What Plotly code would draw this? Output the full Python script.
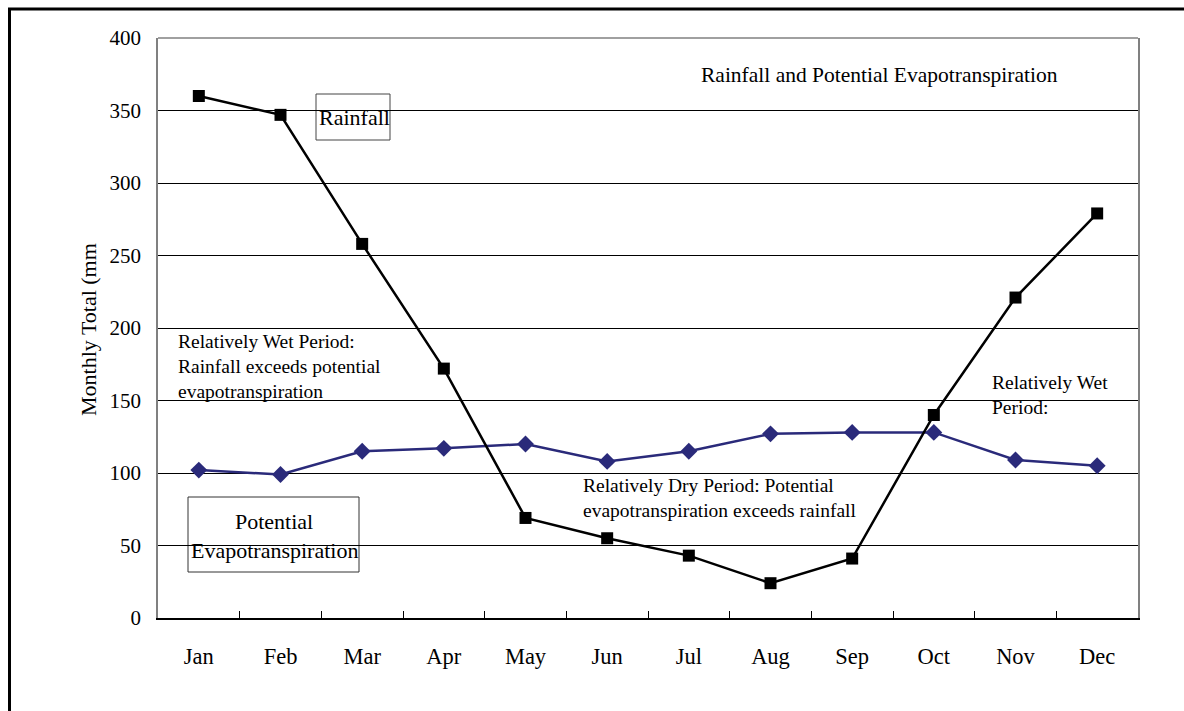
import plotly.graph_objects as go

# Monthly climate data
months = ["Jan", "Feb", "Mar", "Apr", "May", "Jun",
          "Jul", "Aug", "Sep", "Oct", "Nov", "Dec"]
rainfall = [360, 347, 258, 172, 69, 55, 43, 24, 41, 140, 221, 279]
pet = [102, 99, 115, 117, 120, 108, 115, 127, 128, 128, 109, 105]
y_ticks = [0, 50, 100, 150, 200, 250, 300, 350, 400]

W, H = 1184, 711
L, R, T, B = 158, 46, 38, 93
PW, PH = W - L - R, H - T - B
FONT = "Liberation Serif, Times New Roman, serif"
NAVY = "#2A2A7A"


def px(x):
    return (x - L) / PW


def py(y):
    return (H - B - y) / PH


fig = go.Figure()

fig.add_trace(go.Scatter(
    x=months, y=pet, mode="lines+markers", name="Potential Evapotranspiration",
    line=dict(color=NAVY, width=2.5),
    marker=dict(symbol="diamond", size=13, color=NAVY),
))
fig.add_trace(go.Scatter(
    x=months, y=rainfall, mode="lines+markers", name="Rainfall",
    line=dict(color="black", width=2.5),
    marker=dict(symbol="square", size=12, color="black"),
))

shapes = [
    # outer frame of the figure
    dict(type="rect", xref="paper", yref="paper",
         x0=px(9.5), x1=px(1200), y0=py(9), y1=py(730),
         line=dict(color="black", width=3), layer="above"),
    # top edge of the plot area
    dict(type="line", xref="paper", yref="paper", x0=0, x1=1, y0=1, y1=1,
         line=dict(color="#808080", width=1.5), layer="above"),
    # white backing behind the wet-period notes
    dict(type="rect", xref="paper", yref="paper",
         x0=px(171), x1=px(400), y0=py(322), y1=py(404),
         fillcolor="white", line=dict(width=0), layer="between"),
    dict(type="rect", xref="paper", yref="paper",
         x0=px(985), x1=px(1117), y0=py(368), y1=py(416),
         fillcolor="white", line=dict(width=0), layer="between"),
    # label boxes
    dict(type="rect", xref="paper", yref="paper",
         x0=px(316), x1=px(390), y0=py(94), y1=py(140),
         fillcolor="white", line=dict(color="#444444", width=1), layer="between"),
    dict(type="rect", xref="paper", yref="paper",
         x0=px(188), x1=px(359), y0=py(497), y1=py(572),
         fillcolor="white", line=dict(color="#333333", width=1), layer="between"),
]

annotations = []


def note(text, x, y, size=19.5, xanchor="left"):
    annotations.append(dict(
        text=text, xref="paper", yref="paper", x=px(x), y=py(y),
        xanchor=xanchor, yanchor="middle", showarrow=False,
        font=dict(family=FONT, size=size, color="black"),
    ))


note("Rainfall and Potential Evapotranspiration", 879, 75, size=21.5, xanchor="center")
note("Rainfall", 354, 117, size=22, xanchor="center")
note("Potential", 274, 521, size=22, xanchor="center")
note("Evapotranspiration", 274, 550, size=22, xanchor="center")
note("Relatively Wet Period:", 176, 341)
note("Rainfall exceeds potential", 176, 366)
note("evapotranspiration", 176, 391)
note("Relatively Wet", 990, 382)
note("Period:", 990, 407)
note("Relatively Dry Period: Potential", 581, 485)
note("evapotranspiration exceeds rainfall", 581, 510)

# vertical axis title
annotations.append(dict(
    text="Monthly Total (mm", xref="paper", yref="paper",
    x=px(88), y=py(330), xanchor="center", yanchor="middle",
    textangle=-90, showarrow=False,
    font=dict(family=FONT, size=22, color="black"),
))

fig.update_layout(
    width=W, height=H,
    margin=dict(l=L, r=R, t=T, b=B, pad=0),
    paper_bgcolor="white", plot_bgcolor="white",
    showlegend=False,
    font=dict(family=FONT, size=21, color="black"),
    shapes=shapes, annotations=annotations,
)
fig.update_xaxes(
    type="category", categoryorder="array", categoryarray=months,
    range=[-0.5, 11.5], showgrid=False, zeroline=False,
    showline=True, linecolor="black", linewidth=1.5,
    tickson="boundaries", ticks="inside", ticklen=7, tickcolor="black",
    tickwidth=1, ticklabelstandoff=17,
    tickfont=dict(family=FONT, size=22.5, color="black"),
)
fig.update_yaxes(
    range=[0, 400], tickvals=y_ticks, ticktext=[str(v) for v in y_ticks],
    showgrid=True, gridcolor="black", gridwidth=1, zeroline=False,
    showline=True, linecolor="#808080", linewidth=1.5, mirror=True,
    ticks="", ticklabelstandoff=11,
    tickfont=dict(family=FONT, size=21, color="black"),
)

fig.write_html("out.html")
